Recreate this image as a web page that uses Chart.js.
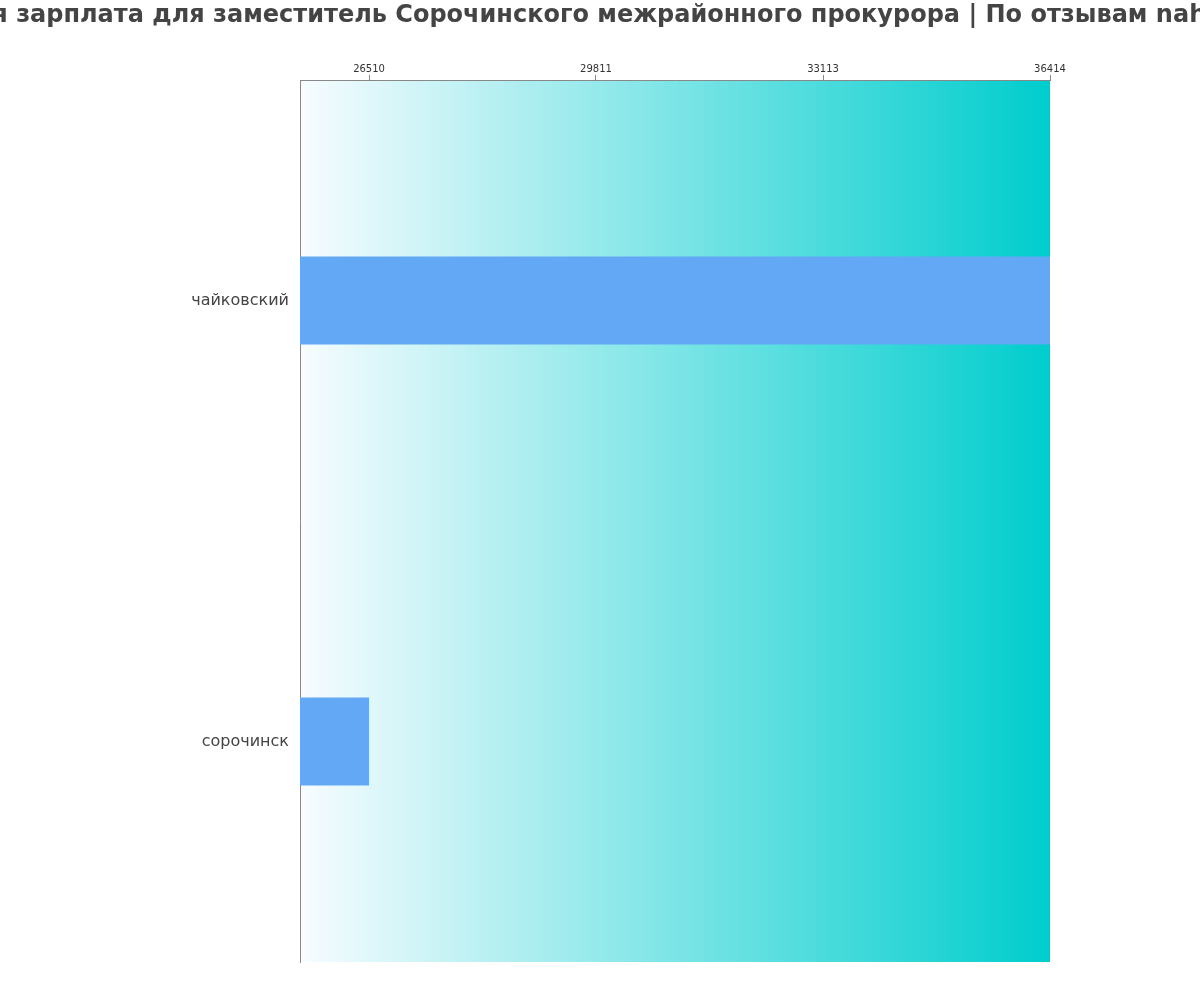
<!DOCTYPE html>
<html>
<head>
<meta charset="utf-8">
<script src="https://cdn.jsdelivr.net/npm/chart.js@4"></script>
<style>
    html, body { margin: 0; padding: 0; background: #fff; }
    #wrap { width: 1200px; height: 1000px; }
</style>
</head>
<body>
<div id="wrap"><canvas id="chart" width="1200" height="1000"></canvas></div>
<script>
const titleText = 'Средняя зарплата для заместитель Сорочинского межрайонного прокурора | По отзывам nahodka.ru';
const cities = ['чайковский', 'сорочинск'];
const salaries = [36414, 26510];
const tickValues = [26510, 29811, 33113, 36414];
const fontFamily = 'DejaVu Sans';

// Paint the fading turquoise band behind the bars
const areaGradient = {
    id: 'areaGradient',
    beforeDraw(chart) {
        const { ctx, chartArea: a } = chart;
        const g = ctx.createLinearGradient(a.left, 0, a.right, 0);
        g.addColorStop(0, '#f7fcff');
        g.addColorStop(1, '#00cdcd');
        ctx.save();
        ctx.fillStyle = g;
        ctx.fillRect(a.left, a.top, a.right - a.left, a.bottom - a.top);
        ctx.restore();
    }
};

// Title centred on the whole canvas; it is wider than the page and runs off both sides.
// Drawn by hand because the built-in title squeezes long text to fit.
const pageTitle = {
    id: 'pageTitle',
    afterDraw(chart) {
        const ctx = chart.ctx;
        ctx.save();
        ctx.font = 'bold 24px ' + fontFamily;
        ctx.fillStyle = '#444';
        ctx.textAlign = 'center';
        ctx.textBaseline = 'middle';
        ctx.fillText(titleText, chart.width / 2, 16);
        ctx.restore();
    }
};

new Chart(document.getElementById('chart'), {
    type: 'bar',
    data: {
        labels: cities,
        datasets: [{
            data: salaries,
            backgroundColor: '#63a8f5',
            borderWidth: 0,
            barPercentage: 0.2,
            categoryPercentage: 1
        }]
    },
    options: {
        indexAxis: 'y',
        responsive: false,
        animation: false,
        layout: { padding: { left: 0, right: 150, top: 63, bottom: 38 } },
        scales: {
            x: {
                position: 'top',
                min: 25506,
                max: 36414,
                afterBuildTicks: (scale) => {
                    scale.ticks = tickValues.map(v => ({ value: v }));
                },
                grid: {
                    drawOnChartArea: false,
                    drawTicks: true,
                    tickLength: 5,
                    color: '#888'
                },
                border: { color: '#888' },
                ticks: {
                    color: '#333',
                    font: { family: fontFamily, size: 10 },
                    padding: 0,
                    maxRotation: 0,
                    autoSkip: false,
                    callback: (v) => String(v)
                }
            },
            y: {
                afterFit: (scale) => { scale.width = 300; },
                grid: { display: false },
                border: { color: '#888' },
                ticks: {
                    color: '#444',
                    font: { family: fontFamily, size: 16 },
                    padding: 3
                }
            }
        },
        plugins: {
            legend: { display: false },
            tooltip: { enabled: false },
            title: { display: false }
        }
    },
    plugins: [areaGradient, pageTitle]
});
</script>
</body>
</html>
